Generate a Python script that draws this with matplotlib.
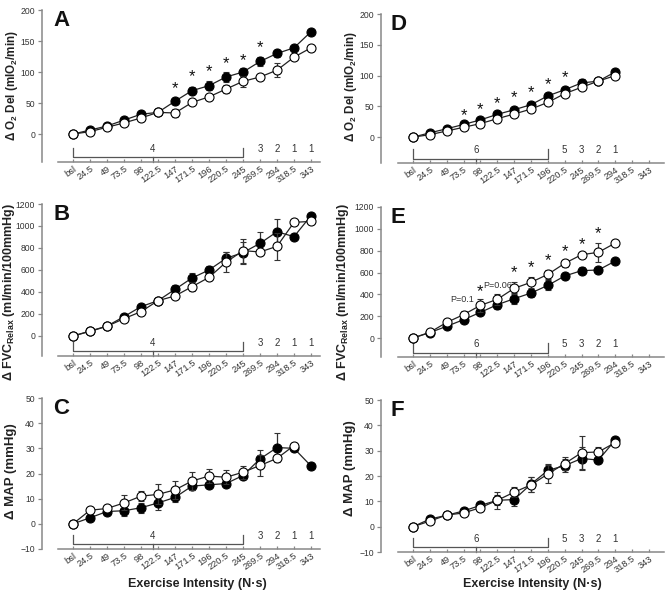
import matplotlib
matplotlib.use("Agg")
import matplotlib.pyplot as plt
import matplotlib.transforms as mtransforms
import numpy as np

plt.rcParams['font.family'] = ['Liberation Sans', 'DejaVu Sans']
plt.rcParams['mathtext.fontset'] = 'custom'
plt.rcParams['mathtext.rm'] = 'Liberation Sans'
plt.rcParams['mathtext.bf'] = 'Liberation Sans:bold'
plt.rcParams['mathtext.default'] = 'bf'

# ---------------- data ----------------
xlabels = ['bsl', '24.5', '49', '73.5', '98', '122.5', '147', '171.5', '196',
           '220.5', '245', '269.5', '294', '318.5', '343']

# Panel A: O2 delivery (left column)
a_filled = [0, 6.5, 13, 22.5, 32, 35, 53, 70, 78, 92, 100, 117, 130, 139, 165]
a_filled_err = [0, 2, 2, 3, 3, 3, 5, 6, 7, 8, 6, 7, 5, 3, 3]
a_open = [0, 4, 11, 18, 26, 35, 34, 51, 60, 72.5, 85, 92, 103, 124, 139]
a_open_err = [0, 2, 2, 2, 3, 3, 6, 3, 3, 7, 9, 4, 11, 3, 3]
a_star_idx = [6, 7, 8, 9, 10, 11]
a_star_y = [73, 93, 101, 113, 119, 139]

# Panel B: FVC relax (left column)
b_filled = [0, 45, 90, 176, 267, 321, 424, 527, 600, 706, 758, 842, 948, 903, 1094]
b_filled_err = [0, 10, 10, 15, 15, 15, 35, 50, 40, 60, 100, 100, 120, 15, 15]
b_open = [0, 42, 88, 158, 221, 321, 364, 448, 533, 670, 776, 764, 815, 1033, 1042]
b_open_err = [0, 10, 10, 15, 15, 15, 20, 40, 20, 90, 110, 20, 120, 15, 15]

# Panel C: MAP (left column)
c_filled = [0, 2.4, 4.9, 5.2, 6.4, 8.3, 10.5, 15, 15.5, 16, 19.2, 25.8, 30.3, 30, 23]
c_filled_err = [0, 1, 1.2, 2, 2, 3, 2, 1.5, 1, 1, 1.5, 3.5, 5.6, 1, 1]
c_open = [0, 5.4, 6.1, 8.3, 11, 11.7, 13.5, 17, 19, 18.5, 20.5, 23.2, 26, 31.1]
c_open_err = [0, 0.8, 1, 3, 2, 4, 3.5, 3.5, 2.7, 2.8, 2.5, 4, 1, 1]

# Panel D: O2 delivery (right column)
d_filled = [0, 7, 13.6, 20.6, 28, 37, 44.5, 52.7, 67, 77, 88, 91, 106]
d_filled_err = [0, 2, 2, 2, 3, 3, 3, 3, 4, 4, 6, 2, 3]
d_open = [0, 4, 10, 16, 22, 30, 37.5, 45.6, 56.5, 70.6, 81, 91, 100]
d_open_err = [0, 2, 2, 2, 2, 3, 3, 3, 3, 3, 3, 2, 2]
d_star_idx = [3, 4, 5, 6, 7, 8, 9]
d_star_y = [35, 45, 54, 64, 72, 85, 97]

# Panel E: FVC relax (right column)
e_filled = [0, 50, 107, 168, 235, 305, 360, 412, 482, 568, 617, 623, 705]
e_filled_err = [0, 10, 15, 15, 25, 40, 50, 40, 45, 25, 30, 15, 15]
e_open = [0, 52, 143, 214, 299, 354, 455, 510, 583, 684, 763, 785, 870]
e_open_err = [0, 10, 15, 30, 60, 50, 55, 50, 40, 30, 15, 85, 15]
e_star_idx = [4, 6, 7, 8, 9, 10, 11]
e_star_y = [427, 595, 641, 711, 794, 855, 956]
e_ptext = ['P=0.1', 'P=0.06']
e_ptext_idx = [2.9, 5.0]
e_ptext_y = [355, 485]

# Panel F: MAP (right column)
f_filled = [0, 3, 4.5, 6.2, 8.4, 10.4, 10.7, 16.8, 22.2, 24.1, 26.9, 26.3, 34.2]
f_filled_err = [0, 0.8, 1, 1, 1.5, 2, 2.7, 3, 2.7, 2.5, 4.7, 1, 1]
f_open = [0, 2.2, 4.6, 5.4, 7.5, 10.4, 13.6, 16.5, 20.8, 24.9, 29.2, 29.5, 33.2]
f_open_err = [0, 0.8, 1, 1, 1.5, 3.3, 2, 3, 3.5, 2.5, 6.5, 1.8, 1]

left_n_labels = ['4', '3', '2', '1', '1']
left_n_pos = [4.7, 11, 12, 13, 14]
right_n_labels = ['6', '5', '3', '2', '1']
right_n_pos = [3.75, 9, 10, 11, 12]

# ---------------- layout ----------------
W, H = 667, 595
fig = plt.figure(figsize=(W / 100, H / 100), dpi=100)

LINE = '#222222'
SPINE = '#888888'
TXT = '#333333'


def make_ax(col, top_px, bot_px, ylim, yticks, letter, ylabel, ylab_xy, ylab_fs,
            bracket_end, n_labels, n_pos):
    if col == 0:
        yaxis_x, bsl_x, end_x, xr = 42, 73, 311, 14.6
        spine_hi = 14.5
    else:
        yaxis_x, bsl_x, end_x, xr = 381, 413, 649, 14.95
        spine_hi = 14.9
    dx = (end_x - bsl_x) / 14.0
    xmin = -(bsl_x - yaxis_x) / dx
    right_px = bsl_x + xr * dx
    rect = [yaxis_x / W, 1 - bot_px / H, (right_px - yaxis_x) / W, (bot_px - top_px) / H]
    ax = fig.add_axes(rect)
    ax.set_xlim(xmin, xr)
    ax.set_ylim(*ylim)
    ax.patch.set_alpha(0)
    for s in ['top', 'right']:
        ax.spines[s].set_visible(False)
    for s in ['left', 'bottom']:
        ax.spines[s].set_color(SPINE)
        ax.spines[s].set_linewidth(1.1)
    ax.spines['bottom'].set_bounds(-0.9, spine_hi)
    ax.set_yticks(yticks)
    ax.set_xticks(range(len(xlabels)))
    ax.set_xticklabels(xlabels, rotation=35, ha='right', rotation_mode='anchor')
    ax.tick_params(axis='both', colors=SPINE, labelcolor=TXT, width=0.9)
    ax.tick_params(axis='y', length=3, pad=2, labelsize=6.2)
    ax.tick_params(axis='x', length=2.5, direction='in', pad=1.5, labelsize=6.7)
    fig.text(ylab_xy[0] / W, 1 - ylab_xy[1] / H, ylabel, rotation=90, ha='center',
             va='center', fontsize=ylab_fs, fontweight='bold', color='#222222')
    # panel letter
    ax.text(0.04 if col == 0 else 0.035, 1.0, letter, transform=ax.transAxes,
            fontsize=16, fontweight='bold', va='top', ha='left', color='#111111')
    # bracket
    tr = mtransforms.blended_transform_factory(ax.transData, ax.transAxes)
    ax.plot([0, 0, bracket_end, bracket_end], [0.095, 0.03, 0.03, 0.095],
            transform=tr, color='#555555', lw=0.9, clip_on=False)
    ax.plot([n_pos[0], n_pos[0]], [0.03, 0.0], transform=tr, color='#555555',
            lw=0.9, clip_on=False)
    for lab, p in zip(n_labels, n_pos):
        ax.text(p, 0.085, lab, transform=tr, ha='center', va='center',
                fontsize=7, color=TXT)
    return ax


def draw_series(ax, filled, ferr, opened, oerr):
    xf = np.arange(len(filled))
    xo = np.arange(len(opened))
    ax.errorbar(xf, filled, yerr=ferr, fmt='-o', color=LINE, ecolor='#333333',
                elinewidth=0.9, capsize=2.5, capthick=0.9, lw=0.9,
                markersize=6.5, markerfacecolor='black', markeredgecolor='black',
                markeredgewidth=0.8, zorder=3, clip_on=False)
    ax.errorbar(xo, opened, yerr=oerr, fmt='-o', color=LINE, ecolor='#333333',
                elinewidth=0.9, capsize=2.5, capthick=0.9, lw=0.9,
                markersize=6.5, markerfacecolor='white', markeredgecolor='black',
                markeredgewidth=0.8, zorder=4, clip_on=False)


def stars(ax, idx, ys):
    for i, y in zip(idx, ys):
        ax.text(i, y, '*', ha='center', va='center', fontsize=12, color='#111111')


ylab_o2 = '\u0394 O$_2$ Del (mlO$_2$/min)'
ylab_fvc = '\u0394 FVC$_{Relax}$ (ml/min/100mmHg)'
ylab_map = '\u0394 MAP (mmHg)'

axA = make_ax(0, 10, 162, (-45, 200), [0, 50, 100, 150, 200], 'A', ylab_o2,
              (12, 86), 8.4, 10, left_n_labels, left_n_pos)
draw_series(axA, a_filled, a_filled_err, a_open, a_open_err)
stars(axA, a_star_idx, a_star_y)

axB = make_ax(0, 204, 356, (-182, 1200), list(range(0, 1201, 200)), 'B', ylab_fvc,
              (9, 292), 9.0, 10, left_n_labels, left_n_pos)
draw_series(axB, b_filled, b_filled_err, b_open, b_open_err)

axC = make_ax(0, 398, 549, (-10, 50), list(range(-10, 51, 10)), 'C', ylab_map,
              (11, 471), 9.5, 10, left_n_labels, left_n_pos)
draw_series(axC, c_filled, c_filled_err, c_open, c_open_err)

axD = make_ax(1, 14, 163, (-42, 200), [0, 50, 100, 150, 200], 'D', ylab_o2,
              (351, 87), 8.4, 8, right_n_labels, right_n_pos)
draw_series(axD, d_filled, d_filled_err, d_open, d_open_err)
stars(axD, d_star_idx, d_star_y)

axE = make_ax(1, 207, 357, (-174, 1200), list(range(0, 1201, 200)), 'E', ylab_fvc,
              (343, 292), 9.0, 8, right_n_labels, right_n_pos)
draw_series(axE, e_filled, e_filled_err, e_open, e_open_err)
stars(axE, e_star_idx, e_star_y)
for t, i, y in zip(e_ptext, e_ptext_idx, e_ptext_y):
    axE.text(i, y, t, ha='center', va='center', fontsize=6.5, color=TXT)

axF = make_ax(1, 400, 552, (-10, 50), list(range(-10, 51, 10)), 'F', ylab_map,
              (350, 468), 9.5, 8, right_n_labels, right_n_pos)
draw_series(axF, f_filled, f_filled_err, f_open, f_open_err)

# shared x labels
for xc in [197 / W, 532 / W]:
    fig.text(xc, 1 - 584 / H, 'Exercise Intensity (N\u00b7s)', ha='center', va='center',
             fontsize=9, fontweight='bold', color='#222222')

fig.savefig('out.png', dpi=100)
